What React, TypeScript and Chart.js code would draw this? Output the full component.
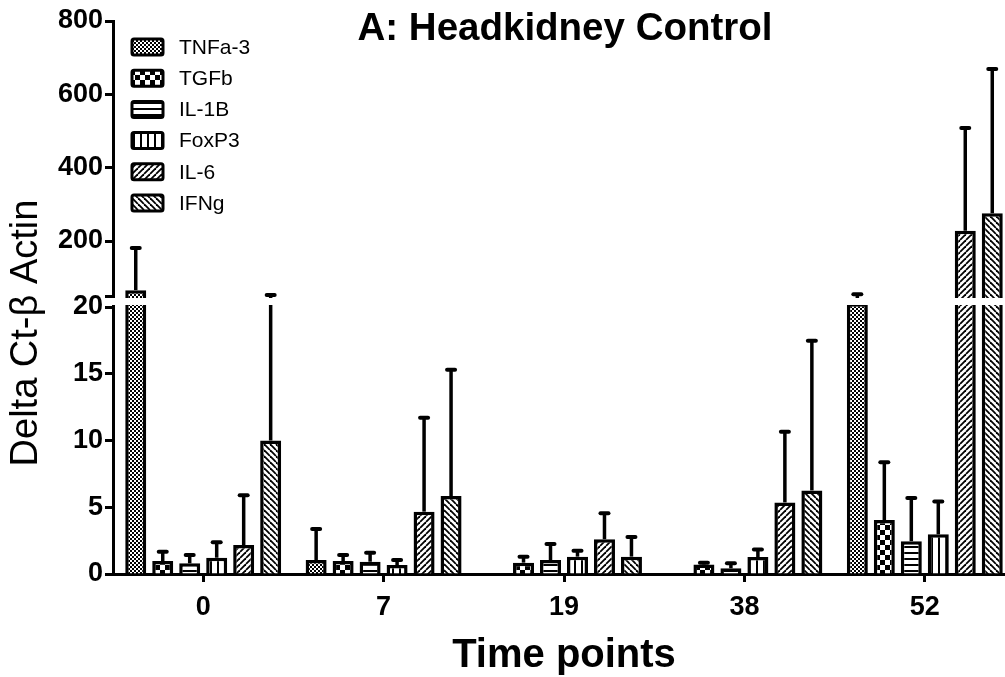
import React, { useEffect, useRef } from "react";
import { Chart, registerables, LinearScale } from "chart.js";

Chart.register(...registerables);

const FONT = '"Liberation Sans", Arial, Helvetica, sans-serif';

const TITLE = "A: Headkidney Control";
const X_TITLE = "Time points";
const Y_TITLE = "Delta Ct-\u03B2 Actin";

const CATEGORIES = ["0", "7", "19", "38", "52"];
const SERIES = ["TNFa-3", "TGFb", "IL-1B", "FoxP3", "IL-6", "IFNg"];
const PATTERNS = ["fineChecker", "bigChecker", "hLines", "vLines", "fwdDiag", "backDiag"];

const TNFA_MEAN = [66, 1.05, null, null, 30];
const TNFA_ERR = [181, 3.37, null, null, 55];
const TGFB_MEAN = [0.97, 0.97, 0.85, 0.71, 4.04];
const TGFB_ERR = [1.67, 1.42, 1.3, 0.85, 8.37];
const IL1B_MEAN = [0.8, 0.92, 1.05, 0.43, 2.46];
const IL1B_ERR = [1.42, 1.6, 2.25, 0.8, 5.7];
const FOXP3_MEAN = [1.22, 0.67, 1.3, 1.27, 2.97];
const FOXP3_ERR = [2.37, 1.05, 1.75, 1.83, 5.44];
const IL6_MEAN = [2.17, 4.67, 2.6, 5.36, 228];
const IL6_ERR = [5.9, 11.7, 4.55, 10.66, 508];
const IFNG_MEAN = [10, 5.84, 1.3, 6.26, 276];
const IFNG_ERR = [53, 15.3, 2.77, 17.48, 669];

const MEANS = [TNFA_MEAN, TGFB_MEAN, IL1B_MEAN, FOXP3_MEAN, IL6_MEAN, IFNG_MEAN];
const ERRS = [TNFA_ERR, TGFB_ERR, IL1B_ERR, FOXP3_ERR, IL6_ERR, IFNG_ERR];

// broken axis definition
const LOW_MAX = 20;
const HIGH_MIN = 50;
const Y_MAX = 800;
const Y_TICKS = [0, 5, 10, 15, 20, 50, 200, 400, 600, 800];
const LOW_FRAC = 267 / 553;
const GAP_FRAC = 11 / 553;

function toDecimal(v: number) {
  if (v <= LOW_MAX) return (v / LOW_MAX) * LOW_FRAC;
  if (v < HIGH_MIN) return LOW_FRAC + ((v - LOW_MAX) / (HIGH_MIN - LOW_MAX)) * GAP_FRAC;
  return LOW_FRAC + GAP_FRAC + ((v - HIGH_MIN) / (Y_MAX - HIGH_MIN)) * (1 - LOW_FRAC - GAP_FRAC);
}
function fromDecimal(d: number) {
  if (d <= LOW_FRAC) return (d / LOW_FRAC) * LOW_MAX;
  if (d < LOW_FRAC + GAP_FRAC) return LOW_MAX + ((d - LOW_FRAC) / GAP_FRAC) * (HIGH_MIN - LOW_MAX);
  return HIGH_MIN + ((d - LOW_FRAC - GAP_FRAC) / (1 - LOW_FRAC - GAP_FRAC)) * (Y_MAX - HIGH_MIN);
}

class BrokenScale extends (LinearScale as any) {
  static id = "brokenY";
  static defaults = (LinearScale as any).defaults;
  buildTicks() {
    return Y_TICKS.map((v) => ({ value: v }));
  }
  getPixelForValue(value: number) {
    return (this as any).getPixelForDecimal(toDecimal(value));
  }
  getValueForPixel(pixel: number) {
    return fromDecimal((this as any).getDecimalForPixel(pixel));
  }
}
Chart.register(BrokenScale as any);

function makePattern(kind: string): CanvasPattern | string {
  const c = document.createElement("canvas");
  const ctx = c.getContext("2d")!;
  const size = kind === "fineChecker" ? 4 : kind === "bigChecker" ? 10 : kind === "hLines" ? 6 : kind === "vLines" ? 7 : 6;
  c.width = size;
  c.height = size;
  ctx.fillStyle = "#fff";
  ctx.fillRect(0, 0, size, size);
  ctx.fillStyle = "#000";
  ctx.strokeStyle = "#000";
  if (kind === "fineChecker") {
    ctx.fillRect(0, 0, 2, 2);
    ctx.fillRect(2, 2, 2, 2);
  } else if (kind === "bigChecker") {
    ctx.fillRect(0, 0, 5, 5);
    ctx.fillRect(5, 5, 5, 5);
  } else if (kind === "hLines") {
    ctx.fillRect(0, 0, size, 2);
  } else if (kind === "vLines") {
    ctx.fillRect(0, 0, 2, size);
  } else if (kind === "fwdDiag" || kind === "backDiag") {
    ctx.lineWidth = 1.8;
    for (const off of [-size, 0, size]) {
      ctx.beginPath();
      if (kind === "fwdDiag") {
        ctx.moveTo(off, size);
        ctx.lineTo(off + size, 0);
      } else {
        ctx.moveTo(off, 0);
        ctx.lineTo(off + size, size);
      }
      ctx.stroke();
    }
  }
  return ctx.createPattern(c, "repeat") || "#888";
}

const overlayPlugin = {
  id: "overlay",
  afterDatasetsDraw(chart: any) {
    const ctx = chart.ctx;
    const y = chart.scales.y;
    const area = chart.chartArea;
    ctx.save();
    // error bars (upper only)
    chart.data.datasets.forEach((ds: any, i: number) => {
      const meta = chart.getDatasetMeta(i);
      meta.data.forEach((bar: any, j: number) => {
        const v = MEANS[i][j];
        const e = ERRS[i][j];
        if (v == null || e == null) return;
        const yTop = y.getPixelForValue(e);
        ctx.strokeStyle = "#000";
        ctx.lineWidth = 3.5;
        ctx.lineCap = "butt";
        ctx.beginPath();
        ctx.moveTo(bar.x, bar.y);
        ctx.lineTo(bar.x, yTop);
        ctx.stroke();
        ctx.lineWidth = 4;
        ctx.lineCap = "round";
        ctx.beginPath();
        ctx.moveTo(bar.x - 4, yTop);
        ctx.lineTo(bar.x + 4, yTop);
        ctx.stroke();
      });
    });
    // axis break gap
    const gTop = y.getPixelForValue(HIGH_MIN) + 2;
    const gBot = y.getPixelForValue(LOW_MAX) - 2;
    ctx.fillStyle = "#fff";
    ctx.fillRect(area.left - 3, gTop, area.right - area.left + 10, gBot - gTop);
    ctx.restore();
  },
  afterDraw(chart: any) {
    const ctx = chart.ctx;
    ctx.save();
    // title
    ctx.fillStyle = "#000";
    ctx.font = `bold 38.5px ${FONT}`;
    ctx.textAlign = "center";
    ctx.textBaseline = "middle";
    ctx.fillText(TITLE, 565, 29);
    // y title
    ctx.save();
    ctx.translate(27, 333);
    ctx.rotate(-Math.PI / 2);
    ctx.font = `38px ${FONT}`;
    ctx.fillText(Y_TITLE, 0, 0);
    ctx.restore();
    // legend
    chart.data.datasets.forEach((ds: any, i: number) => {
      const cy = 47 + i * 31.2;
      const x0 = 132, w = 31, h = 16;
      ctx.beginPath();
      ctx.roundRect(x0, cy - h / 2, w, h, 2);
      ctx.fillStyle = ds.backgroundColor;
      ctx.fill();
      ctx.lineWidth = 3;
      ctx.strokeStyle = "#000";
      ctx.stroke();
      ctx.fillStyle = "#000";
      ctx.font = `21px ${FONT}`;
      ctx.textAlign = "left";
      ctx.textBaseline = "middle";
      ctx.fillText(ds.label, 179, cy + 1);
    });
    ctx.restore();
  },
};

export default function App() {
  const ref = useRef<HTMLCanvasElement>(null);
  useEffect(() => {
    if (!ref.current) return;
    const datasets = SERIES.map((name, i) => ({
      label: name,
      data: MEANS[i],
      backgroundColor: makePattern(PATTERNS[i]),
      borderColor: "#000",
      borderWidth: 3.5,
      categoryPercentage: 0.8975,
      barPercentage: 0.778,
    }));
    const chart = new Chart(ref.current, {
      type: "bar",
      data: { labels: CATEGORIES, datasets: datasets as any },
      options: {
        responsive: false,
        animation: false,
        devicePixelRatio: 1,
        layout: { padding: { left: 0, top: 21, right: 5, bottom: 0 } },
        plugins: { legend: { display: false }, tooltip: { enabled: false }, title: { display: false } },
        scales: {
          x: {
            type: "category",
            afterFit: (s: any) => {
              s.height = 103;
            },
            grid: { drawOnChartArea: false, drawTicks: true, tickLength: 8, tickWidth: 3, tickColor: "#000", offset: false },
            border: { display: true, color: "#000", width: 3 },
            ticks: { color: "#000", padding: 9, font: { family: FONT, size: 27, weight: "bold" } },
            title: { display: true, text: X_TITLE, color: "#000", padding: { top: 0, bottom: 0 }, font: { family: FONT, size: 40, weight: "bold", lineHeight: 1.05 } },
          },
          y: {
            type: "brokenY" as any,
            min: 0,
            max: Y_MAX,
            afterFit: (s: any) => {
              s.width = 113;
            },
            grid: { drawOnChartArea: false, drawTicks: true, tickLength: 8, tickWidth: 3, tickColor: "#000" },
            border: { display: true, color: "#000", width: 3 },
            ticks: {
              color: "#000",
              padding: 2,
              autoSkip: false,
              font: { family: FONT, size: 27, weight: "bold" },
              callback: (v: any) => (v === HIGH_MIN ? "" : String(v)),
            },
          } as any,
        },
      },
      plugins: [overlayPlugin],
    });
    return () => chart.destroy();
  }, []);
  return (
    <div style={{ position: "fixed", left: 0, top: 0, width: 1005, height: 677, overflow: "hidden", background: "#fff" }}>
      <canvas ref={ref} width={1020} height={677} style={{ display: "block", width: 1020, height: 677 }} />
    </div>
  );
}
